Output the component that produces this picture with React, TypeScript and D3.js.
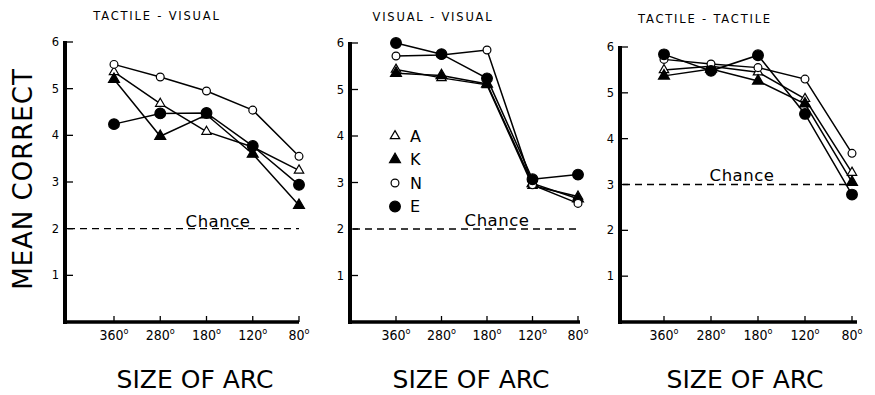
import React, { useEffect, useRef } from "react";
import * as d3 from "d3";

// size of arc (degrees), shown left to right
const arcs = ["360", "280", "180", "120", "80"];
const subjects = ["A", "K", "N", "E"];
const panelTitles = ["TACTILE - VISUAL", "VISUAL - VISUAL", "TACTILE - TACTILE"];
const chanceLevels = [2, 2, 3];
const yTicks = [1, 2, 3, 4, 5, 6];

// tactile - visual
const tvA = [5.36, 4.68, 4.08, 3.75, 3.25];
const tvK = [5.2, 3.98, 4.44, 3.6, 2.5];
const tvN = [5.52, 5.25, 4.95, 4.54, 3.55];
const tvE = [4.24, 4.47, 4.48, 3.77, 2.94];

// visual - visual
const vvA = [5.43, 5.25, 5.1, 2.93, 2.7];
const vvK = [5.35, 5.3, 5.12, 2.98, 2.65];
const vvN = [5.72, 5.74, 5.85, 2.95, 2.55];
const vvE = [6.0, 5.76, 5.24, 3.07, 3.17];

// tactile - tactile
const ttA = [5.5, 5.58, 5.45, 4.87, 3.26];
const ttK = [5.37, 5.52, 5.26, 4.76, 3.05];
const ttN = [5.73, 5.63, 5.55, 5.3, 3.68];
const ttE = [5.84, 5.48, 5.82, 4.54, 2.78];

const panelData = [
  [tvA, tvK, tvN, tvE],
  [vvA, vvK, vvN, vvE],
  [ttA, ttK, ttN, ttE],
];

const App = () => {
  const ref = useRef<SVGSVGElement | null>(null);

  useEffect(() => {
    document.body.style.margin = "0";
    const svg = d3.select(ref.current);
    svg.selectAll("*").remove();

    const font = "'DejaVu Sans', sans-serif";
    const narrow = "'Liberation Sans Narrow', 'DejaVu Sans Condensed', sans-serif";
    const baseline = 322;

    // layout of the three panels
    const panels = [
      { axisX: 65, x0: 114, x1: 299, axisEnd: 299, yTop: 42, titleX: 157, titleY: 20, chanceX: 218, chanceY: 227, labelX: 195 },
      { axisX: 350, x0: 396, x1: 578, axisEnd: 580, yTop: 43, titleX: 433, titleY: 21, chanceX: 497, chanceY: 226, labelX: 471 },
      { axisX: 620, x0: 664, x1: 852, axisEnd: 857, yTop: 47, titleX: 705, titleY: 23, chanceX: 742, chanceY: 181, labelX: 745 },
    ];

    const marker = (g: any, who: string, cx: number, cy: number) => {
      const filled = who === "K" || who === "E";
      const tri = who === "A" || who === "K";
      const size = tri ? (filled ? 52 : 38) : filled ? 90 : 48;
      g.append("path")
        .attr("transform", `translate(${cx},${cy})`)
        .attr("d", d3.symbol().type(tri ? d3.symbolTriangle : d3.symbolCircle).size(size)())
        .attr("fill", filled ? "#000" : "#fff")
        .attr("stroke", "#000")
        .attr("stroke-width", 1.2);
    };

    panels.forEach((p, pi) => {
      const g = svg.append("g");
      const x = d3.scalePoint().domain(arcs).range([p.x0, p.x1]);
      const y = d3.scaleLinear().domain([0, 6]).range([baseline, p.yTop]);

      // title
      g.append("text")
        .attr("x", p.titleX)
        .attr("y", p.titleY)
        .attr("text-anchor", "middle")
        .attr("font-family", font)
        .attr("font-size", 11.5)
        .attr("letter-spacing", 1.8)
        .text(panelTitles[pi]);

      // y axis
      g.append("line")
        .attr("x1", p.axisX).attr("x2", p.axisX)
        .attr("y1", y(6) - 1).attr("y2", baseline + 2)
        .attr("stroke", "#000").attr("stroke-width", 4);
      yTicks.forEach((t) => {
        g.append("line")
          .attr("x1", p.axisX).attr("x2", p.axisX + 8)
          .attr("y1", y(t)).attr("y2", y(t))
          .attr("stroke", "#000").attr("stroke-width", 1.3);
        g.append("text")
          .attr("x", p.axisX - 6)
          .attr("y", y(t))
          .attr("dy", "0.35em")
          .attr("text-anchor", "end")
          .attr("font-family", font)
          .attr("font-size", 11.5)
          .text(t);
      });

      // x axis
      g.append("line")
        .attr("x1", p.axisX - 2).attr("x2", p.axisEnd)
        .attr("y1", baseline).attr("y2", baseline)
        .attr("stroke", "#000").attr("stroke-width", 3.5);
      arcs.forEach((a) => {
        g.append("line")
          .attr("x1", x(a)!).attr("x2", x(a)!)
          .attr("y1", baseline).attr("y2", baseline - 6)
          .attr("stroke", "#000").attr("stroke-width", 1.3);
        const lab = g.append("text")
          .attr("x", x(a)!)
          .attr("y", 340)
          .attr("text-anchor", "middle")
          .attr("font-family", narrow)
          .attr("font-size", 14);
        lab.append("tspan").text(a);
        lab.append("tspan").attr("font-size", 9).attr("dy", -6).text("o");
      });

      g.append("text")
        .attr("x", p.labelX)
        .attr("y", 388)
        .attr("text-anchor", "middle")
        .attr("font-family", font)
        .attr("font-size", 25)
        .text("SIZE OF ARC");

      // chance line
      g.append("line")
        .attr("x1", p.axisX + 3).attr("x2", p.axisEnd)
        .attr("y1", y(chanceLevels[pi])).attr("y2", y(chanceLevels[pi]))
        .attr("stroke", "#000").attr("stroke-width", 1.3)
        .attr("stroke-dasharray", "7,5");
      g.append("text")
        .attr("x", p.chanceX)
        .attr("y", p.chanceY)
        .attr("text-anchor", "middle")
        .attr("font-family", font)
        .attr("font-size", 16.5)
        .attr("letter-spacing", 0.5)
        .text("Chance");

      // series lines
      const line = d3
        .line<number>()
        .x((_, i) => x(arcs[i])!)
        .y((d) => y(d));
      panelData[pi].forEach((vals) => {
        g.append("path")
          .datum(vals)
          .attr("fill", "none")
          .attr("stroke", "#000")
          .attr("stroke-width", 1.5)
          .attr("d", line);
      });
      panelData[pi].forEach((vals, si) => {
        vals.forEach((v, i) => marker(g, subjects[si], x(arcs[i])!, y(v)));
      });

      // legend lives in the middle panel
      if (pi === 1) {
        subjects.forEach((s, si) => {
          const ly = y(4) + si * 23.5;
          marker(g, s, 395, ly);
          g.append("text")
            .attr("x", 410)
            .attr("y", ly)
            .attr("dy", "0.36em")
            .attr("font-family", font)
            .attr("font-size", 16)
            .text(s);
        });
      }
    });

    svg.append("text")
      .attr("transform", "translate(32,179) rotate(-90)")
      .attr("text-anchor", "middle")
      .attr("font-family", font)
      .attr("font-size", 26)
      .attr("letter-spacing", 1)
      .text("MEAN CORRECT");
  }, []);

  return <svg ref={ref} width={875} height={395} style={{ display: "block", background: "#fff" }} />;
};

export default App;
